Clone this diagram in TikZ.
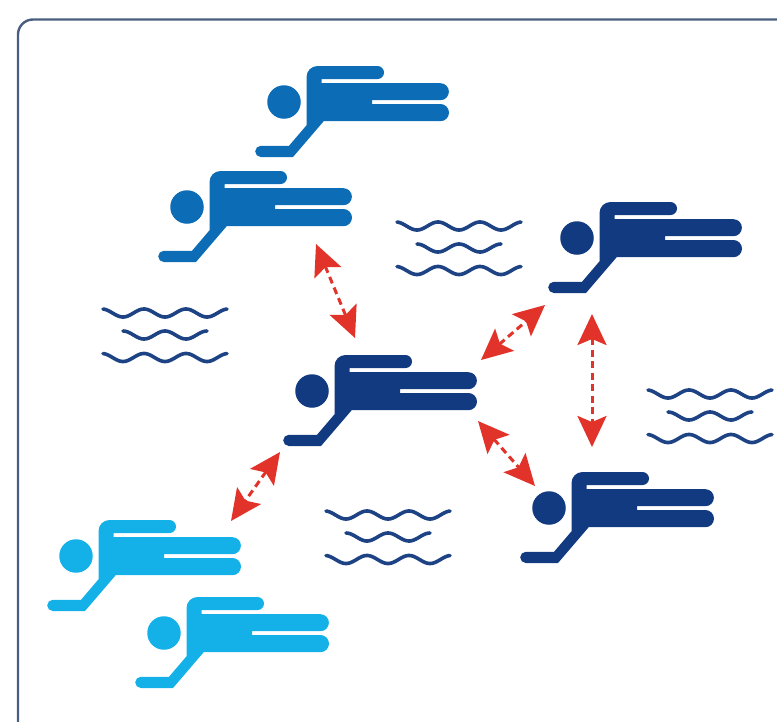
\documentclass[tikz,border=0pt]{standalone}
\usetikzlibrary{arrows.meta}
\definecolor{swimblue}{HTML}{0C6CB6}
\definecolor{swimnavy}{HTML}{123A80}
\definecolor{swimsky}{HTML}{14B0E8}
\definecolor{wavecol}{HTML}{1D4384}
\definecolor{linkred}{HTML}{E2332B}
\definecolor{framecol}{HTML}{4A5E80}
\tikzset{
  x=1pt,y=-1pt,
  pics/swimmer/.style={code={
    \node[circle,fill=#1,minimum size=33.5pt,inner sep=0pt,draw=none] (-head) at (0,0) {};
    \fill[#1] (22.5,-25) arc[start angle=180,end angle=90,radius=11pt]
      -- (93.5,-36) arc[start angle=90,end angle=-90,radius=6.5pt]
      -- (37.5,-23) -- (37.5,-18.8)
      -- (156.4,-18.8) arc[start angle=90,end angle=-90,radius=8.5pt]
      -- (88,-1.8) -- (88,2)
      -- (156.4,2) arc[start angle=90,end angle=-90,radius=8.6pt]
      -- (39.7,19.2) -- (9,55)
      -- (-23.2,55) arc[start angle=270,end angle=90,radius=5.6pt]
      -- (5,43.8) -- (22.5,23.3) -- cycle;
  }},
  pics/waves/.style={code={
    \draw[wavepen] plot[domain=1:125,samples=90] (\x,{4-4*cos(\x*8.5714)});
    \draw[wavepen] plot[domain=21:105,samples=60] (\x,{26-4*cos(\x*8.5714-180)});
    \draw[wavepen] plot[domain=1:125,samples=90] (\x,{48.5-4*cos(\x*8.5714)});
  }},
  wavepen/.style={draw=wavecol,line width=3.6pt,line cap=round},
  linkarrow/.style={draw=linkred,line width=3pt,dash pattern=on 7pt off 4.5pt,
    {Stealth[length=31pt,width=29pt,inset=6pt,fill=linkred]}-{Stealth[length=31pt,width=29pt,inset=6pt,fill=linkred]}},
  framepen/.style={draw=framecol,line width=2.4pt},
}
\begin{document}
\begin{tikzpicture}
\useasboundingbox (0,0) rectangle (777,721);
\draw[framepen,rounded corners=15pt] (790,19.5) -- (18,19.5) -- (18,735);

\pic (s1) at (284,102) {swimmer=swimblue};
\pic (s2) at (187,207) {swimmer=swimblue};
\pic (s3) at (577,238) {swimmer=swimnavy};
\pic (s4) at (312,391) {swimmer=swimnavy};
\pic (s5) at (549,508) {swimmer=swimnavy};
\pic (s6) at (76,556) {swimmer=swimsky};
\pic (s7) at (164,633) {swimmer=swimsky};

\pic (w1) at (102,309) {waves};
\pic (w2) at (396,222) {waves};
\pic (w3) at (647,390) {waves};
\pic (w4) at (325,511) {waves};

\coordinate (a1s) at (316,244);
\coordinate (a1e) at (355,338);
\coordinate (a2s) at (481,360);
\coordinate (a2e) at (545,305);
\coordinate (a3s) at (478,421);
\coordinate (a3e) at (535,486);
\coordinate (a4s) at (592,314);
\coordinate (a4e) at (592,447);
\coordinate (a5s) at (280,452);
\coordinate (a5e) at (231,521);
\draw[linkarrow] (a1s) -- (a1e);
\draw[linkarrow] (a2s) -- (a2e);
\draw[linkarrow] (a3s) -- (a3e);
\draw[linkarrow] (a4s) -- (a4e);
\draw[linkarrow] (a5s) -- (a5e);
\end{tikzpicture}
\end{document}
